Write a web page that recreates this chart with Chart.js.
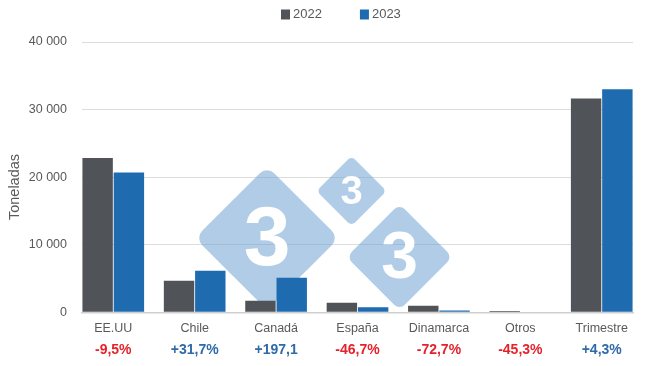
<!DOCTYPE html>
<html>
<head>
<meta charset="utf-8">
<script src="https://cdn.jsdelivr.net/npm/chart.js@4"></script>
<style>
  html, body { margin: 0; padding: 0; background: #ffffff; }
  #wrap { width: 650px; height: 366px; }
</style>
</head>
<body>
<div id="wrap"><canvas id="chart" width="650" height="366"></canvas></div>
<script>
// Destinations and yearly tonnages
const categories = ['EE.UU', 'Chile', 'Canadá', 'España', 'Dinamarca', 'Otros', 'Trimestre'];
const tons2022 = [22850, 4670, 1720, 1400, 960, 180, 31650];
const tons2023 = [20680, 6150, 5110, 746, 262, 98, 33010];
const changeLabels = ['-9,5%', '+31,7%', '+197,1', '-46,7%', '-72,7%', '-45,3%', '+4,3%'];
const yTicks = [0, 10000, 20000, 30000, 40000];
const seriesNames = ['2022', '2023'];
const yTitle = 'Toneladas';

const GREY = '#505458';
const BLUE = '#1f6bb0';
const TEXT = '#595959';
const RED = '#e5222b';
const POS = '#2e6ba8';
const FONT = "'Liberation Sans', Arial, sans-serif";

// half a group's width (in category units) left empty at both ends of the x range
const edge = 0.384;

const fmt = v => String(v).replace(/\B(?=(\d{3})+(?!\d))/g, ' ');

// light-blue rounded diamonds with a "3" inside, painted behind the bars
const badge = {
  id: 'badge',
  beforeDatasetsDraw(chart) {
    const ctx = chart.ctx;
    const marks = [
      { x: 267, y: 238, r: 72, size: 84 },
      { x: 351.5, y: 191, r: 35, size: 40 },
      { x: 399.5, y: 257, r: 53, size: 66 }
    ];
    ctx.save();
    marks.forEach(m => {
      const side = m.r * Math.SQRT2;
      ctx.save();
      ctx.translate(m.x, m.y);
      ctx.rotate(Math.PI / 4);
      ctx.beginPath();
      ctx.roundRect(-side / 2, -side / 2, side, side, side * 0.1);
      ctx.fillStyle = 'rgba(112,162,212,0.55)';
      ctx.fill();
      ctx.restore();
      ctx.fillStyle = '#ffffff';
      ctx.font = `bold ${m.size}px ${FONT}`;
      ctx.textAlign = 'center';
      ctx.textBaseline = 'middle';
      ctx.fillText('3', m.x, m.y + m.size * 0.04);
    });
    ctx.restore();
  }
};

// series key across the top and the rotated unit title on the left
const annotations = {
  id: 'annotations',
  afterDraw(chart) {
    const ctx = chart.ctx;
    ctx.save();
    ctx.font = `13px ${FONT}`;
    ctx.textBaseline = 'middle';
    ctx.textAlign = 'left';
    let x = 281;
    const y = 14.5;
    chart.data.datasets.forEach(ds => {
      ctx.fillStyle = ds.backgroundColor;
      ctx.fillRect(x, y - 5, 9, 10);
      x += 12;
      ctx.fillStyle = TEXT;
      ctx.fillText(ds.label, x, y);
      x += ctx.measureText(ds.label).width + 38;
    });

    ctx.translate(15, 187);
    ctx.rotate(-Math.PI / 2);
    ctx.textAlign = 'center';
    ctx.font = `14.5px ${FONT}`;
    ctx.fillStyle = TEXT;
    ctx.fillText(yTitle, 0, 0);
    ctx.restore();
  }
};

const indexTicks = axis => { axis.ticks = categories.map((_, i) => ({ value: i })); };

new Chart(document.getElementById('chart'), {
  type: 'bar',
  data: {
    datasets: [
      { label: seriesNames[0], data: tons2022.map((v, i) => ({ x: i, y: v })), backgroundColor: GREY },
      { label: seriesNames[1], data: tons2023.map((v, i) => ({ x: i, y: v })), backgroundColor: BLUE }
    ]
  },
  options: {
    responsive: false,
    animation: false,
    devicePixelRatio: 1,
    categoryPercentage: 0.768,
    barPercentage: 0.973,
    layout: { padding: { top: 42, right: 17, bottom: 0, left: 0 } },
    plugins: { legend: { display: false }, tooltip: { enabled: false } },
    scales: {
      x: {
        type: 'linear',
        bounds: 'data',
        offset: false,
        min: -edge,
        max: categories.length - 1 + edge,
        weight: 0,
        afterBuildTicks: indexTicks,
        afterFit: axis => { axis.height = 26; },
        grid: { display: false, drawTicks: false },
        border: { display: true, color: '#cfcfcf', width: 1.5 },
        ticks: {
          padding: 9,
          color: TEXT,
          font: { family: FONT, size: 12.5 },
          maxRotation: 0,
          autoSkip: false,
          callback: v => categories[v]
        }
      },
      xPct: {
        type: 'linear',
        position: 'bottom',
        bounds: 'data',
        offset: false,
        min: -edge,
        max: categories.length - 1 + edge,
        weight: 1,
        afterBuildTicks: indexTicks,
        afterFit: axis => { axis.height = 27.7; },
        grid: { display: false, drawTicks: false },
        border: { display: false },
        ticks: {
          padding: 3,
          font: { family: FONT, size: 14, weight: 'bold' },
          color: c => changeLabels[c.index].startsWith('-') ? RED : POS,
          maxRotation: 0,
          autoSkip: false,
          callback: v => changeLabels[v]
        }
      },
      y: {
        min: 0,
        max: 40000,
        afterBuildTicks: axis => { axis.ticks = yTicks.map(v => ({ value: v })); },
        afterFit: axis => { axis.width = 82; },
        grid: { color: '#dcdcdc', drawTicks: false, lineWidth: 1 },
        border: { display: false },
        ticks: {
          padding: 15,
          color: TEXT,
          font: { family: FONT, size: 12.5 },
          callback: v => fmt(v)
        }
      }
    }
  },
  plugins: [badge, annotations]
});
</script>
</body>
</html>
